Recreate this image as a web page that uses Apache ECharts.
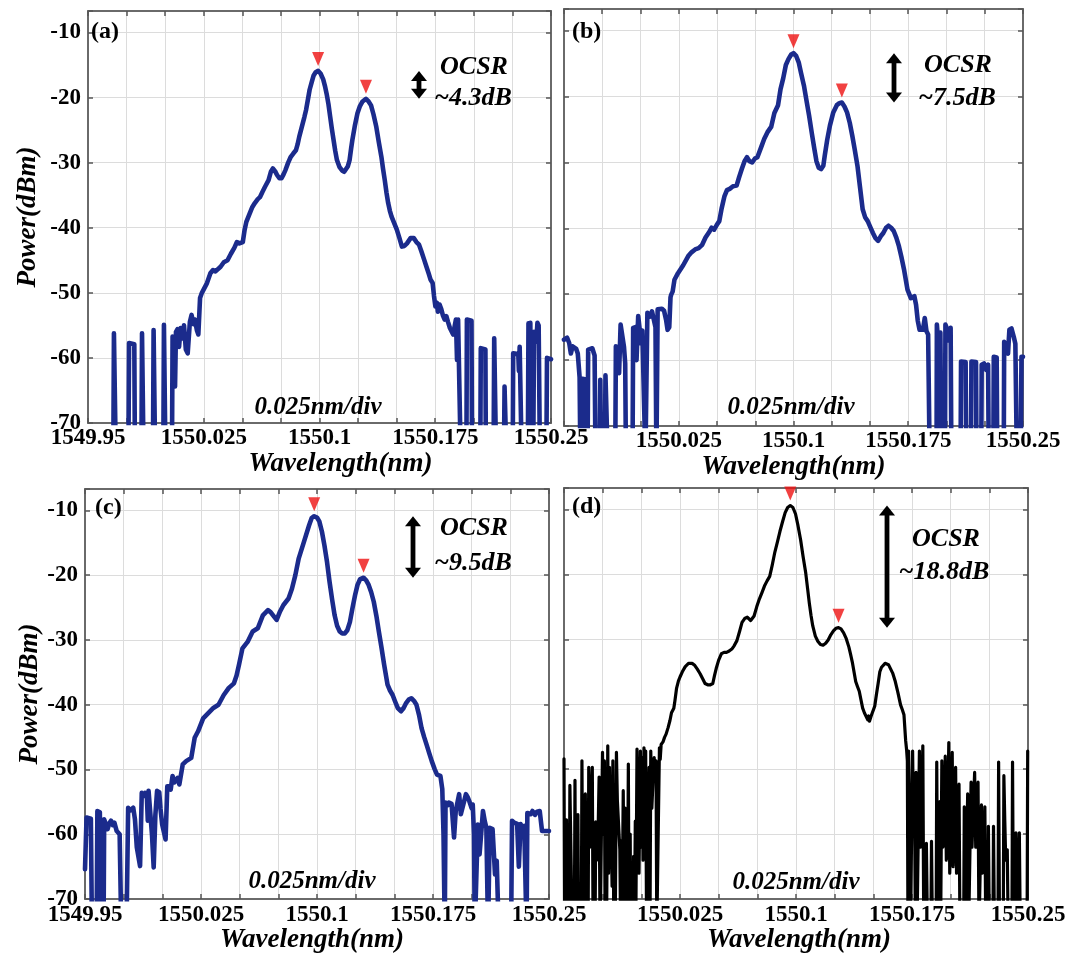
<!DOCTYPE html>
<html>
<head>
<meta charset="utf-8">
<script src="https://cdn.jsdelivr.net/npm/echarts@6/dist/echarts.min.js"></script>
<style>
  html, body { margin: 0; padding: 0; background: #ffffff; }
  #chart { width: 1077px; height: 955px; }
</style>
</head>
<body>
<div id="chart"></div>
<script>
// ---- Measured OSA traces: [wavelength (nm), power (dBm)]; -75 = below the display floor ----
const spectrumA = [
  [1549.9664,-75],[1549.9668,-56.2],[1549.9676,-56.4],[1549.9680,-75],
  [1549.9762,-75],[1549.9766,-57.7],[1549.9800,-57.9],[1549.9804,-75],
  [1549.9846,-75],[1549.9850,-56.2],[1549.9856,-56.4],[1549.9860,-75],
  [1549.9921,-75],[1549.9925,-55.7],[1549.9931,-55.9],[1549.9935,-75],
  [1549.9988,-75],[1549.9992,-54.9],[1549.9998,-55.1],[1550.0002,-75],
  [1550.0044,-75],[1550.0048,-56.7],[1550.0058,-57.5],[1550.0064,-64.4],[1550.0070,-56.0],[1550.0080,-55.6],
  [1550.0090,-58.3],[1550.0100,-55.4],[1550.0112,-57.0],[1550.0122,-55.0],[1550.0134,-58.7],[1550.0146,-59.3],
  [1550.0160,-54.5],[1550.0171,-53.4],[1550.0184,-54.8],[1550.0193,-54.1],[1550.0206,-55.8],[1550.0215,-56.4],
  [1550.0226,-50.8],[1550.0238,-50.0],[1550.0249,-49.5],[1550.0271,-48.5],[1550.0293,-47.0],[1550.0310,-46.5],
  [1550.0326,-46.7],[1550.0359,-46.0],[1550.0380,-45.3],[1550.0404,-45.0],[1550.0426,-44.0],[1550.0448,-43.1],
  [1550.0465,-42.2],[1550.0481,-42.4],[1550.0503,-42.2],[1550.0515,-40.3],[1550.0526,-39.1],[1550.0548,-37.8],
  [1550.0565,-36.8],[1550.0581,-36.2],[1550.0600,-35.6],[1550.0614,-35.3],[1550.0630,-34.5],[1550.0647,-33.7],
  [1550.0670,-32.7],[1550.0685,-31.4],[1550.0698,-30.9],[1550.0712,-31.3],[1550.0725,-31.9],[1550.0740,-32.4],
  [1550.0754,-32.4],[1550.0767,-31.8],[1550.0780,-31.1],[1550.0797,-30.0],[1550.0814,-29.1],[1550.0830,-28.6],
  [1550.0847,-28.1],[1550.0858,-27.2],[1550.0869,-26.0],[1550.0880,-25.0],[1550.0891,-24.0],[1550.0902,-23.0],
  [1550.0913,-21.9],[1550.0925,-20.3],[1550.0936,-18.8],[1550.0950,-17.6],[1550.0962,-16.6],[1550.0975,-16.1],
  [1550.0991,-15.9],[1550.1007,-16.3],[1550.1024,-17.2],[1550.1035,-18.2],[1550.1046,-19.4],[1550.1058,-21.0],
  [1550.1069,-22.9],[1550.1080,-24.8],[1550.1091,-26.5],[1550.1102,-28.2],[1550.1113,-29.6],[1550.1130,-30.7],
  [1550.1146,-31.2],[1550.1160,-31.4],[1550.1172,-31.2],[1550.1183,-30.6],[1550.1195,-29.6],[1550.1205,-27.8],
  [1550.1213,-26.5],[1550.1230,-24.2],[1550.1246,-22.4],[1550.1262,-21.3],[1550.1279,-20.6],[1550.1290,-20.3],
  [1550.1301,-20.2],[1550.1318,-20.6],[1550.1334,-21.2],[1550.1350,-22.6],[1550.1368,-24.5],[1550.1384,-26.8],
  [1550.1401,-29.1],[1550.1412,-31.0],[1550.1423,-32.7],[1550.1434,-34.6],[1550.1445,-36.2],[1550.1456,-37.4],
  [1550.1467,-38.3],[1550.1484,-39.3],[1550.1501,-40.3],[1550.1518,-41.6],[1550.1534,-42.9],[1550.1550,-42.8],
  [1550.1567,-42.4],[1550.1590,-41.6],[1550.1611,-41.6],[1550.1628,-42.2],[1550.1645,-42.6],[1550.1660,-43.6],
  [1550.1678,-44.9],[1550.1693,-46.0],[1550.1707,-47.0],[1550.1720,-48.0],[1550.1733,-48.5],[1550.1742,-50.5],
  [1550.1751,-52.1],[1550.1760,-51.5],[1550.1767,-52.9],[1550.1778,-51.8],[1550.1789,-52.5],[1550.1800,-53.5],
  [1550.1811,-54.1],[1550.1822,-53.6],[1550.1833,-54.5],[1550.1845,-55.4],[1550.1855,-55.2],[1550.1866,-56.4],
  [1550.1877,-56.7],[1550.1884,-54.1],[1550.1891,-60.3],[1550.1898,-54.1],[1550.1905,-54.3],[1550.1915,-75],
  [1550.1952,-75],[1550.1955,-54.1],[1550.1985,-54.3],[1550.1988,-75],
  [1550.2042,-75],[1550.2045,-58.5],[1550.2075,-58.7],[1550.2078,-75],
  [1550.2128,-75],[1550.2132,-57.0],[1550.2140,-57.2],[1550.2144,-75],
  [1550.2195,-75],[1550.2199,-64.4],[1550.2207,-64.6],[1550.2211,-75],
  [1550.2252,-75],[1550.2255,-59.3],[1550.2288,-59.4],[1550.2292,-62.0],[1550.2297,-58.3],[1550.2305,-58.5],[1550.2310,-75],
  [1550.2350,-75],[1550.2354,-54.7],[1550.2360,-58.0],[1550.2366,-54.6],[1550.2372,-75],
  [1550.2385,-75],[1550.2390,-56.0],[1550.2405,-57.5],[1550.2412,-54.6],[1550.2420,-55.0],[1550.2428,-75],
  [1550.2470,-75],[1550.2474,-60.0],[1550.2500,-60.2]
];

const spectrumB = [
  [1549.9500,-56.9],[1549.9520,-56.6],[1549.9534,-57.4],[1549.9545,-59.0],[1549.9556,-57.9],[1549.9568,-57.6],
  [1549.9580,-58.3],[1549.9590,-59.0],[1549.9602,-62.6],[1549.9607,-75],
  [1549.9610,-75],[1549.9613,-62.8],[1549.9636,-62.9],[1549.9640,-75],
  [1549.9654,-75],[1549.9658,-58.4],[1549.9670,-58.6],[1549.9685,-58.2],[1549.9700,-59.3],[1549.9706,-75],
  [1549.9733,-75],[1549.9737,-63.0],[1549.9742,-75],
  [1549.9767,-75],[1549.9771,-62.3],[1549.9782,-62.5],[1549.9786,-75],
  [1549.9835,-75],[1549.9839,-57.9],[1549.9852,-57.9],[1549.9860,-62.0],[1549.9870,-54.6],[1549.9882,-54.4],
  [1549.9892,-58.0],[1549.9900,-60.5],[1549.9905,-75],
  [1549.9948,-75],[1549.9952,-55.1],[1549.9966,-55.0],[1549.9974,-60.0],[1549.9985,-53.3],[1549.9997,-53.1],
  [1550.0005,-57.5],[1550.0012,-55.5],[1550.0025,-55.2],[1550.0032,-75],
  [1550.0040,-75],[1550.0045,-52.8],[1550.0060,-53.4],[1550.0075,-52.6],[1550.0087,-52.9],[1550.0098,-55.0],[1550.0104,-75],
  [1550.0108,-75],[1550.0112,-52.3],[1550.0125,-52.6],[1550.0140,-52.2],[1550.0154,-52.5],[1550.0168,-54.0],
  [1550.0177,-55.4],[1550.0188,-55.0],[1550.0196,-50.5],[1550.0200,-50.1],[1550.0210,-49.6],[1550.0222,-47.8],
  [1550.0245,-46.8],[1550.0279,-45.6],[1550.0312,-44.2],[1550.0335,-43.6],[1550.0357,-43.2],[1550.0380,-43.0],
  [1550.0403,-42.5],[1550.0425,-41.4],[1550.0448,-40.6],[1550.0465,-39.9],[1550.0481,-40.2],[1550.0498,-39.5],
  [1550.0515,-38.9],[1550.0530,-37.0],[1550.0549,-35.1],[1550.0565,-34.2],[1550.0583,-34.0],[1550.0605,-33.6],
  [1550.0628,-33.5],[1550.0645,-32.2],[1550.0662,-31.0],[1550.0680,-29.8],[1550.0696,-29.2],[1550.0712,-29.8],
  [1550.0730,-30.0],[1550.0748,-29.4],[1550.0764,-29.2],[1550.0790,-27.6],[1550.0809,-26.4],[1550.0830,-25.4],
  [1550.0854,-24.6],[1550.0875,-22.5],[1550.0899,-21.3],[1550.0915,-18.9],[1550.0933,-17.2],[1550.0950,-15.2],
  [1550.0967,-14.3],[1550.0985,-13.6],[1550.1000,-13.4],[1550.1017,-13.8],[1550.1034,-14.8],[1550.1050,-16.5],
  [1550.1068,-18.3],[1550.1085,-20.6],[1550.1102,-22.9],[1550.1120,-25.6],[1550.1136,-27.9],[1550.1150,-29.8],
  [1550.1165,-30.8],[1550.1180,-31.0],[1550.1195,-30.5],[1550.1204,-29.0],[1550.1220,-26.6],[1550.1238,-24.4],
  [1550.1260,-22.4],[1550.1283,-21.3],[1550.1300,-21.0],[1550.1316,-20.9],[1550.1333,-21.5],[1550.1350,-22.4],
  [1550.1368,-24.0],[1550.1384,-25.9],[1550.1400,-28.0],[1550.1418,-30.5],[1550.1435,-33.8],[1550.1452,-37.1],
  [1550.1468,-38.3],[1550.1485,-38.9],[1550.1502,-39.8],[1550.1519,-40.7],[1550.1536,-41.5],[1550.1553,-41.9],
  [1550.1570,-41.2],[1550.1587,-40.7],[1550.1605,-39.9],[1550.1621,-39.6],[1550.1638,-39.9],[1550.1655,-40.4],
  [1550.1672,-41.4],[1550.1689,-42.7],[1550.1705,-44.3],[1550.1722,-46.2],[1550.1745,-49.3],[1550.1767,-50.6],
  [1550.1790,-50.3],[1550.1801,-51.6],[1550.1812,-54.0],[1550.1824,-55.4],[1550.1846,-55.4],[1550.1858,-53.6],
  [1550.1869,-55.6],[1550.1880,-56.1],[1550.1890,-75],
  [1550.1935,-75],[1550.1937,-54.6],[1550.1948,-54.8],[1550.1955,-60.0],[1550.1960,-55.8],[1550.1966,-75],
  [1550.1990,-75],[1550.1993,-54.6],[1550.2003,-55.2],[1550.2010,-57.0],[1550.2027,-55.1],[1550.2032,-75],
  [1550.2092,-75],[1550.2095,-60.2],[1550.2125,-60.3],[1550.2129,-75],
  [1550.2160,-75],[1550.2163,-60.2],[1550.2193,-60.3],[1550.2196,-75],
  [1550.2227,-75],[1550.2230,-60.7],[1550.2245,-60.5],[1550.2260,-61.5],[1550.2272,-60.7],[1550.2276,-75],
  [1550.2306,-75],[1550.2309,-59.5],[1550.2328,-59.6],[1550.2332,-75],
  [1550.2374,-75],[1550.2377,-57.2],[1550.2390,-57.0],[1550.2402,-59.0],[1550.2411,-55.4],[1550.2425,-55.2],
  [1550.2440,-56.5],[1550.2450,-57.5],[1550.2460,-75],
  [1550.2485,-75],[1550.2490,-59.5],[1550.2500,-59.5]
];

const spectrumC = [
  [1549.9500,-65.4],[1549.9507,-65.4],[1549.9510,-57.4],[1549.9538,-57.6],[1549.9545,-75],
  [1549.9575,-75],[1549.9580,-56.4],[1549.9596,-56.6],[1549.9602,-75],
  [1549.9620,-75],[1549.9624,-57.7],[1549.9635,-58.0],[1549.9646,-59.2],[1549.9657,-58.3],[1549.9668,-57.9],
  [1549.9680,-58.6],[1549.9690,-58.2],[1549.9705,-59.5],[1549.9724,-60.0],[1549.9735,-75],
  [1549.9768,-75],[1549.9779,-55.9],[1549.9795,-56.3],[1549.9812,-55.9],[1549.9823,-57.7],[1549.9835,-62.0],
  [1549.9856,-64.9],[1549.9867,-53.6],[1549.9880,-54.1],[1549.9889,-53.6],[1549.9900,-54.1],[1549.9906,-57.9],
  [1549.9911,-53.3],[1549.9922,-53.3],[1549.9933,-60.0],[1549.9944,-65.1],[1549.9955,-57.0],[1549.9966,-53.3],
  [1549.9980,-53.5],[1549.9988,-56.0],[1549.9999,-58.5],[1550.0021,-60.8],[1550.0032,-52.6],[1550.0045,-52.6],
  [1550.0054,-53.1],[1550.0066,-51.0],[1550.0078,-52.0],[1550.0088,-52.3],[1550.0099,-51.3],[1550.0110,-52.3],
  [1550.0132,-49.2],[1550.0154,-48.7],[1550.0187,-48.2],[1550.0209,-45.1],[1550.0231,-44.1],[1550.0264,-42.1],
  [1550.0297,-41.3],[1550.0330,-40.5],[1550.0363,-40.0],[1550.0397,-38.5],[1550.0430,-37.4],[1550.0463,-36.7],
  [1550.0480,-35.5],[1550.0496,-33.8],[1550.0518,-31.3],[1550.0551,-30.3],[1550.0584,-28.7],[1550.0617,-28.2],
  [1550.0650,-26.2],[1550.0683,-25.4],[1550.0700,-25.7],[1550.0716,-26.2],[1550.0739,-26.9],[1550.0761,-25.6],
  [1550.0783,-24.6],[1550.0816,-23.6],[1550.0838,-22.1],[1550.0860,-20.0],[1550.0882,-17.4],[1550.0915,-14.9],
  [1550.0949,-12.3],[1550.0965,-11.2],[1550.0982,-10.9],[1550.1000,-11.1],[1550.1015,-11.7],[1550.1032,-13.3],
  [1550.1048,-15.4],[1550.1065,-18.0],[1550.1081,-21.0],[1550.1098,-23.8],[1550.1114,-26.2],[1550.1130,-27.8],
  [1550.1147,-28.7],[1550.1163,-29.0],[1550.1180,-29.0],[1550.1196,-28.5],[1550.1213,-27.2],[1550.1230,-25.0],
  [1550.1246,-23.1],[1550.1262,-21.5],[1550.1279,-20.6],[1550.1290,-20.5],[1550.1301,-20.4],[1550.1318,-20.8],
  [1550.1334,-21.5],[1550.1350,-22.6],[1550.1367,-24.1],[1550.1384,-26.3],[1550.1400,-28.7],[1550.1417,-31.2],
  [1550.1434,-33.8],[1550.1456,-36.9],[1550.1472,-37.8],[1550.1489,-38.5],[1550.1505,-39.5],[1550.1522,-40.5],
  [1550.1544,-41.0],[1550.1560,-40.5],[1550.1577,-39.7],[1550.1593,-39.2],[1550.1610,-39.0],[1550.1627,-39.4],
  [1550.1643,-40.0],[1550.1660,-41.6],[1550.1676,-43.6],[1550.1693,-45.0],[1550.1709,-46.2],[1550.1726,-47.5],
  [1550.1742,-48.7],[1550.1760,-49.9],[1550.1776,-50.8],[1550.1798,-51.0],[1550.1810,-53.0],[1550.1818,-60.0],
  [1550.1826,-75],
  [1550.1828,-75],[1550.1831,-55.1],[1550.1845,-55.5],[1550.1853,-55.1],[1550.1870,-55.3],[1550.1886,-60.5],
  [1550.1897,-56.4],[1550.1919,-53.8],[1550.1930,-56.9],[1550.1941,-56.9],[1550.1963,-53.8],[1550.1975,-54.3],
  [1550.1985,-54.9],[1550.2000,-56.0],[1550.2007,-55.4],[1550.2015,-60.0],[1550.2020,-75],
  [1550.2032,-75],[1550.2040,-58.5],[1550.2051,-63.1],[1550.2073,-56.4],[1550.2085,-58.0],[1550.2095,-59.0],[1550.2106,-75],
  [1550.2114,-75],[1550.2117,-59.0],[1550.2135,-59.2],[1550.2151,-66.2],[1550.2162,-64.1],[1550.2175,-75],
  [1550.2255,-75],[1550.2261,-57.9],[1550.2275,-58.2],[1550.2283,-57.9],[1550.2294,-58.4],[1550.2305,-65.0],
  [1550.2316,-58.4],[1550.2327,-59.0],[1550.2340,-58.7],[1550.2349,-59.0],[1550.2355,-75],
  [1550.2358,-75],[1550.2360,-56.7],[1550.2382,-56.9],[1550.2393,-56.4],[1550.2410,-57.0],[1550.2422,-56.5],
  [1550.2440,-56.4],[1550.2455,-59.5],[1550.2475,-59.5],[1550.2500,-59.5]
];

const spectrumD = [
  [1549.9500,-48.4],[1549.9504,-75],
  [1549.9512,-75],[1549.9516,-57.8],[1549.9520,-75],
  [1549.9534,-75],[1549.9538,-52.5],[1549.9549,-52.5],[1549.9553,-75],
  [1549.9567,-75],[1549.9571,-51.7],[1549.9575,-75],
  [1549.9587,-75],[1549.9590,-57.0],[1549.9594,-75],
  [1549.9612,-75],[1549.9616,-48.7],[1549.9622,-75],
  [1549.9634,-75],[1549.9638,-53.8],[1549.9642,-75],
  [1549.9656,-75],[1549.9660,-49.7],[1549.9666,-62.0],[1549.9683,-49.7],[1549.9688,-75],
  [1549.9701,-75],[1549.9705,-58.1],[1549.9712,-64.0],[1549.9720,-60.5],[1549.9727,-51.2],[1549.9733,-75],
  [1549.9745,-75],[1549.9749,-47.4],[1549.9755,-60.0],[1549.9761,-48.7],[1549.9766,-75],
  [1549.9769,-75],[1549.9772,-60.0],[1549.9775,-75],
  [1549.9779,-75],[1549.9783,-46.4],[1549.9788,-66.0],[1549.9794,-49.7],[1549.9800,-62.0],[1549.9805,-59.5],
  [1549.9811,-68.0],[1549.9816,-48.7],[1549.9822,-75],
  [1549.9825,-75],[1549.9828,-58.0],[1549.9831,-75],
  [1549.9835,-75],[1549.9839,-47.4],[1549.9845,-54.8],[1549.9850,-54.8],[1549.9861,-62.4],[1549.9866,-75],
  [1549.9869,-75],[1549.9872,-61.0],[1549.9875,-75],
  [1549.9879,-75],[1549.9883,-53.3],[1549.9890,-75],
  [1549.9892,-75],[1549.9895,-56.0],[1549.9898,-75],
  [1549.9901,-75],[1549.9905,-63.9],[1549.9910,-75],[1549.9912,-75],[1549.9916,-49.2],[1549.9921,-75],
  [1549.9925,-75],[1549.9928,-60.0],[1549.9931,-75],
  [1549.9935,-75],[1549.9939,-66.4],[1549.9944,-75],[1549.9946,-75],[1549.9950,-63.4],[1549.9955,-75],
  [1549.9958,-75],[1549.9961,-58.0],[1549.9964,-75],
  [1549.9968,-75],[1549.9972,-46.9],[1549.9978,-58.0],[1549.9985,-66.0],[1549.9994,-47.2],[1550.0000,-62.0],
  [1550.0006,-48.2],[1550.0011,-64.0],[1550.0017,-46.7],[1550.0022,-56.0],[1550.0028,-47.2],[1550.0034,-75],
  [1550.0037,-75],[1550.0039,-52.0],[1550.0044,-58.0],[1550.0050,-49.7],[1550.0056,-75],
  [1550.0058,-75],[1550.0061,-47.2],[1550.0068,-56.0],[1550.0075,-52.0],[1550.0083,-48.2],[1550.0089,-51.5],
  [1550.0095,-48.7],[1550.0100,-75],
  [1550.0112,-75],[1550.0117,-46.7],[1550.0122,-48.5],[1550.0128,-46.2],[1550.0140,-45.8],[1550.0150,-45.1],
  [1550.0160,-44.6],[1550.0173,-43.6],[1550.0185,-42.5],[1550.0195,-41.3],[1550.0210,-40.6],[1550.0217,-39.5],
  [1550.0228,-37.5],[1550.0240,-36.4],[1550.0250,-35.8],[1550.0265,-35.0],[1550.0284,-34.2],[1550.0305,-33.7],
  [1550.0328,-33.7],[1550.0345,-34.0],[1550.0362,-34.6],[1550.0380,-35.3],[1550.0395,-36.0],[1550.0412,-36.8],
  [1550.0429,-37.0],[1550.0446,-37.0],[1550.0462,-36.8],[1550.0473,-35.6],[1550.0484,-34.5],[1550.0500,-33.2],
  [1550.0518,-32.2],[1550.0535,-32.0],[1550.0551,-32.0],[1550.0568,-31.8],[1550.0585,-31.5],[1550.0600,-31.0],
  [1550.0618,-30.2],[1550.0635,-28.8],[1550.0651,-27.4],[1550.0668,-26.8],[1550.0685,-26.6],[1550.0696,-26.9],
  [1550.0707,-27.1],[1550.0718,-26.9],[1550.0729,-26.4],[1550.0746,-25.0],[1550.0763,-23.8],[1550.0780,-22.8],
  [1550.0796,-21.8],[1550.0813,-21.0],[1550.0830,-20.3],[1550.0846,-18.6],[1550.0863,-16.6],[1550.0880,-15.0],
  [1550.0896,-13.4],[1550.0913,-11.9],[1550.0930,-10.5],[1550.0946,-9.7],[1550.0963,-9.4],[1550.0980,-9.7],
  [1550.0997,-10.7],[1550.1013,-12.5],[1550.1030,-14.7],[1550.1046,-17.3],[1550.1063,-19.8],[1550.1075,-22.2],
  [1550.1086,-24.4],[1550.1097,-26.3],[1550.1108,-27.9],[1550.1125,-29.5],[1550.1141,-30.3],[1550.1158,-30.8],
  [1550.1175,-30.9],[1550.1192,-30.6],[1550.1208,-30.1],[1550.1225,-29.3],[1550.1242,-28.7],[1550.1258,-28.3],
  [1550.1275,-28.2],[1550.1291,-28.4],[1550.1308,-29.0],[1550.1325,-29.9],[1550.1342,-31.2],[1550.1353,-32.3],
  [1550.1364,-33.5],[1550.1375,-35.0],[1550.1386,-36.5],[1550.1398,-37.3],[1550.1409,-38.0],[1550.1420,-39.3],
  [1550.1431,-40.6],[1550.1442,-41.3],[1550.1453,-41.6],[1550.1464,-42.4],[1550.1470,-41.8],[1550.1475,-42.6],
  [1550.1486,-41.8],[1550.1498,-41.6],[1550.1509,-40.3],[1550.1520,-38.5],[1550.1531,-36.8],[1550.1542,-35.0],
  [1550.1553,-34.3],[1550.1564,-34.0],[1550.1576,-33.7],[1550.1587,-33.7],[1550.1598,-33.9],[1550.1609,-34.2],
  [1550.1625,-35.2],[1550.1642,-36.5],[1550.1659,-38.2],[1550.1676,-40.1],[1550.1687,-40.8],[1550.1698,-41.6],
  [1550.1709,-45.6],[1550.1715,-47.0],[1550.1720,-48.7],[1550.1724,-75],
  [1550.1726,-75],[1550.1728,-47.2],[1550.1734,-58.0],[1550.1740,-75],[1550.1750,-75],[1550.1754,-47.2],
  [1550.1760,-60.0],[1550.1766,-53.0],[1550.1772,-75],[1550.1774,-75],[1550.1776,-50.5],[1550.1782,-75],
  [1550.1794,-75],[1550.1798,-47.2],[1550.1804,-62.0],[1550.1812,-58.0],[1550.1820,-46.4],[1550.1826,-75],
  [1550.1839,-75],[1550.1843,-61.4],[1550.1850,-75],[1550.1872,-75],[1550.1876,-61.1],[1550.1882,-75],
  [1550.1906,-75],[1550.1910,-48.9],[1550.1916,-75],[1550.1925,-75],[1550.1930,-55.0],[1550.1935,-75],
  [1550.1939,-75],[1550.1943,-48.7],[1550.1950,-62.0],[1550.1958,-60.0],[1550.1965,-48.0],[1550.1972,-64.0],
  [1550.1980,-58.0],[1550.1988,-45.9],[1550.1994,-66.0],[1550.2000,-60.0],[1550.2010,-47.4],[1550.2016,-65.0],
  [1550.2024,-58.0],[1550.2032,-49.7],[1550.2038,-66.0],[1550.2046,-60.0],[1550.2054,-52.3],[1550.2060,-75],
  [1550.2084,-75],[1550.2088,-55.8],[1550.2094,-75],[1550.2106,-75],[1550.2110,-53.8],[1550.2116,-75],
  [1550.2128,-75],[1550.2132,-52.0],[1550.2138,-62.0],[1550.2146,-56.0],[1550.2155,-50.5],[1550.2162,-62.0],
  [1550.2170,-58.0],[1550.2177,-52.0],[1550.2183,-75],
  [1550.2195,-75],[1550.2199,-55.5],[1550.2205,-66.0],[1550.2214,-62.0],[1550.2221,-55.8],[1550.2227,-75],
  [1550.2240,-75],[1550.2244,-58.8],[1550.2250,-75],[1550.2273,-75],[1550.2277,-58.8],[1550.2283,-75],
  [1550.2306,-75],[1550.2310,-48.9],[1550.2316,-75],[1550.2340,-75],[1550.2344,-51.0],[1550.2350,-58.0],
  [1550.2356,-64.0],[1550.2366,-62.4],[1550.2372,-75],[1550.2396,-75],[1550.2400,-48.9],[1550.2406,-75],
  [1550.2418,-75],[1550.2422,-59.8],[1550.2428,-75],[1550.2440,-75],[1550.2444,-59.8],[1550.2450,-75],
  [1550.2494,-75],[1550.2498,-47.2],[1550.2500,-47.2]
];

// Carrier and first sideband peaks (OCSR = carrier - sideband)
const peaksA = [[1550.0991, -15.9], [1550.1301, -20.2]];
const peaksB = [[1550.1000, -13.4], [1550.1316, -20.9]];
const peaksC = [[1550.0982, -10.9], [1550.1301, -20.4]];
const peaksD = [[1550.0963, -9.4], [1550.1275, -28.2]];

const ocsrLabels = ['~4.3dB', '~7.5dB', '~9.5dB', '~18.8dB'];
const panelTags = ['(a)', '(b)', '(c)', '(d)'];
const xTickLabelsLeft = ['1549.95', '1550.025', '1550.1', '1550.175', '1550.25'];
const xTickLabelsRight = ['', '1550.025', '1550.1', '1550.175', '1550.25'];
const resolutionLabel = '0.025nm/div';
const xAxisTitle = 'Wavelength(nm)';
const yAxisTitle = 'Power(dBm)';

// ---- Axis settings ----
const X_MIN = 1549.95, X_MAX = 1550.25, X_STEP = 0.025;
const Y_MIN = -70, Y_MAX = -6.7, Y_STEP = 10;

// ---- Styling & layout ----
const SERIF = "'Liberation Serif', 'Times New Roman', serif";
const BLUE = '#1b2b8c';
const FRAME = '#6a6a6a';
const GRIDLINE = '#dcdcdc';

const panels = [
  { data: spectrumA, peaks: peaksA, color: BLUE, lw: 4.6, showY: true, xLabels: xTickLabelsLeft,
    grid: { left: 88, top: 11, width: 463, height: 412 }, arrowNm: 1550.1645,
    tagXY: [91, 32], ocsrXY: [474, 67], valXY: [473, 98], divXY: [318, 408], xNameGap: 25, xNamePad: [0, 0, 0, 42], yNameGap: 46 },
  { data: spectrumB, peaks: peaksB, color: BLUE, lw: 4.6, showY: false, xLabels: xTickLabelsRight,
    grid: { left: 564, top: 9, width: 459, height: 417 }, arrowNm: 1550.1654,
    tagXY: [572, 32], ocsrXY: [958, 65], valXY: [957, 98], divXY: [791, 408], xNameGap: 22, xNamePad: [0, 0, 0, 0], yNameGap: 46 },
  { data: spectrumC, peaks: peaksC, color: BLUE, lw: 4.6, showY: true, xLabels: xTickLabelsLeft,
    grid: { left: 85, top: 489, width: 464, height: 411 }, arrowNm: 1550.1620,
    tagXY: [95, 508], ocsrXY: [474, 528], valXY: [473, 563], divXY: [312, 882], xNameGap: 21, xNamePad: [0, 10, 0, 0], yNameGap: 41 },
  { data: spectrumD, peaks: peaksD, color: '#000000', lw: 3.2, showY: false, xLabels: xTickLabelsRight,
    grid: { left: 564, top: 488, width: 464, height: 414 }, arrowNm: 1550.1587,
    tagXY: [572, 507], ocsrXY: [946, 539], valXY: [944, 572], divXY: [796, 883], xNameGap: 21, xNamePad: [0, 0, 0, 6], yNameGap: 46 }
];

const tickLabelFont = { fontFamily: SERIF, fontWeight: 'bold', fontSize: 23, color: '#000' };
const titleFont = { fontFamily: SERIF, fontWeight: 'bold', fontStyle: 'italic', fontSize: 27, color: '#000' };
const frameLine = { show: true, onZero: false, lineStyle: { color: FRAME, width: 2 } };
const innerTicks = { show: true, inside: true, length: 5, lineStyle: { color: '#555', width: 1.5 } };

// Double-headed arrow between carrier and sideband levels, in data coordinates
function renderArrow(params, api) {
  const x = api.value(0);
  const a = api.coord([x, api.value(1)]);
  const b = api.coord([x, api.value(2)]);
  const cx = Math.round(a[0]);
  const top = Math.min(a[1], b[1]);
  const bot = Math.max(a[1], b[1]);
  const hw = 8, hh = 10, sw = 2.4;
  return {
    type: 'group',
    children: [
      { type: 'rect', shape: { x: cx - sw, y: top + hh - 1, width: sw * 2, height: Math.max(0, bot - top - 2 * hh + 2) }, style: { fill: '#000' } },
      { type: 'polygon', shape: { points: [[cx, top], [cx - hw, top + hh], [cx + hw, top + hh]] }, style: { fill: '#000' } },
      { type: 'polygon', shape: { points: [[cx, bot], [cx - hw, bot - hh], [cx + hw, bot - hh]] }, style: { fill: '#000' } }
    ]
  };
}

const grid = [], xAxis = [], yAxis = [], series = [], graphic = [];

panels.forEach(function (p, i) {
  grid.push(Object.assign({ containLabel: false }, p.grid));

  // bottom axis with labels and vertical grid lines
  xAxis.push({
    type: 'value', gridIndex: i, position: 'bottom', min: X_MIN, max: X_MAX, interval: X_STEP,
    axisLine: frameLine, axisTick: innerTicks,
    axisLabel: {
      show: true, margin: 4, showMinLabel: true, showMaxLabel: true,
      fontFamily: tickLabelFont.fontFamily, fontWeight: 'bold', fontSize: tickLabelFont.fontSize, color: '#000',
      formatter: function (v) {
        const k = Math.round((v - X_MIN) / X_STEP);
        return k % 3 === 0 ? (p.xLabels[k / 3] || '') : '';
      }
    },
    splitLine: { show: true, lineStyle: { color: GRIDLINE, width: 1 } },
    name: xAxisTitle, nameLocation: 'middle', nameGap: p.xNameGap,
    nameTextStyle: Object.assign({ padding: p.xNamePad }, titleFont)
  });
  // top frame edge
  xAxis.push({
    type: 'value', gridIndex: i, position: 'top', min: X_MIN, max: X_MAX, interval: X_STEP,
    axisLine: frameLine, axisTick: innerTicks, axisLabel: { show: false }, splitLine: { show: false }
  });

  // left axis with labels and horizontal grid lines
  yAxis.push({
    type: 'value', gridIndex: i, position: 'left', min: Y_MIN, max: Y_MAX, interval: Y_STEP,
    axisLine: frameLine, axisTick: innerTicks,
    axisLabel: {
      show: p.showY, margin: 7,
      fontFamily: tickLabelFont.fontFamily, fontWeight: 'bold', fontSize: tickLabelFont.fontSize, color: '#000',
      formatter: function (v) { return Math.abs(v % Y_STEP) < 1e-6 ? String(v) : ''; }
    },
    splitLine: { show: true, lineStyle: { color: GRIDLINE, width: 1 } },
    name: p.showY ? yAxisTitle : '', nameLocation: 'middle', nameGap: p.yNameGap,
    nameTextStyle: titleFont
  });
  // right frame edge
  yAxis.push({
    type: 'value', gridIndex: i, position: 'right', min: Y_MIN, max: Y_MAX, interval: Y_STEP,
    axisLine: frameLine, axisTick: innerTicks, axisLabel: { show: false }, splitLine: { show: false }
  });

  series.push({
    type: 'line', xAxisIndex: 2 * i, yAxisIndex: 2 * i, data: p.data,
    showSymbol: false, symbol: 'none', clip: true, animation: false, z: 3,
    lineStyle: { color: p.color, width: p.lw, join: 'round', cap: 'round' }
  });
  series.push({
    type: 'scatter', xAxisIndex: 2 * i, yAxisIndex: 2 * i, data: p.peaks,
    symbol: 'path://M0,0L10,0L5,12Z', symbolKeepAspect: false, symbolSize: [12, 14], symbolOffset: [0, -12],
    itemStyle: { color: '#ee1111' }, animation: false, silent: true, z: 5
  });
  series.push({
    type: 'custom', xAxisIndex: 2 * i, yAxisIndex: 2 * i,
    data: [[p.arrowNm, p.peaks[0][1], p.peaks[1][1]]],
    encode: { x: 0, y: [1, 2] },
    renderItem: renderArrow, animation: false, silent: true, clip: false, z: 5
  });

  const textStyle = function (txt, size, italic, align) {
    return {
      text: txt, fill: '#000', fontFamily: SERIF, fontWeight: 'bold', fontStyle: italic ? 'italic' : 'normal',
      fontSize: size, align: align, verticalAlign: 'middle', textAlign: align, textVerticalAlign: 'middle'
    };
  };
  graphic.push({ type: 'text', x: p.tagXY[0], y: p.tagXY[1], z: 10, style: textStyle(panelTags[i], 24, false, 'left') });
  graphic.push({ type: 'text', x: p.ocsrXY[0], y: p.ocsrXY[1], z: 10, style: textStyle('OCSR', 26, true, 'center') });
  graphic.push({ type: 'text', x: p.valXY[0], y: p.valXY[1], z: 10, style: textStyle(ocsrLabels[i], 26, true, 'center') });
  graphic.push({ type: 'text', x: p.divXY[0], y: p.divXY[1], z: 10, style: textStyle(resolutionLabel, 25, true, 'center') });
});

const chart = echarts.init(document.getElementById('chart'), null, { renderer: 'canvas', width: 1077, height: 955 });
chart.setOption({
  backgroundColor: '#ffffff',
  animation: false,
  grid: grid,
  xAxis: xAxis,
  yAxis: yAxis,
  series: series,
  graphic: graphic
});
</script>
</body>
</html>
